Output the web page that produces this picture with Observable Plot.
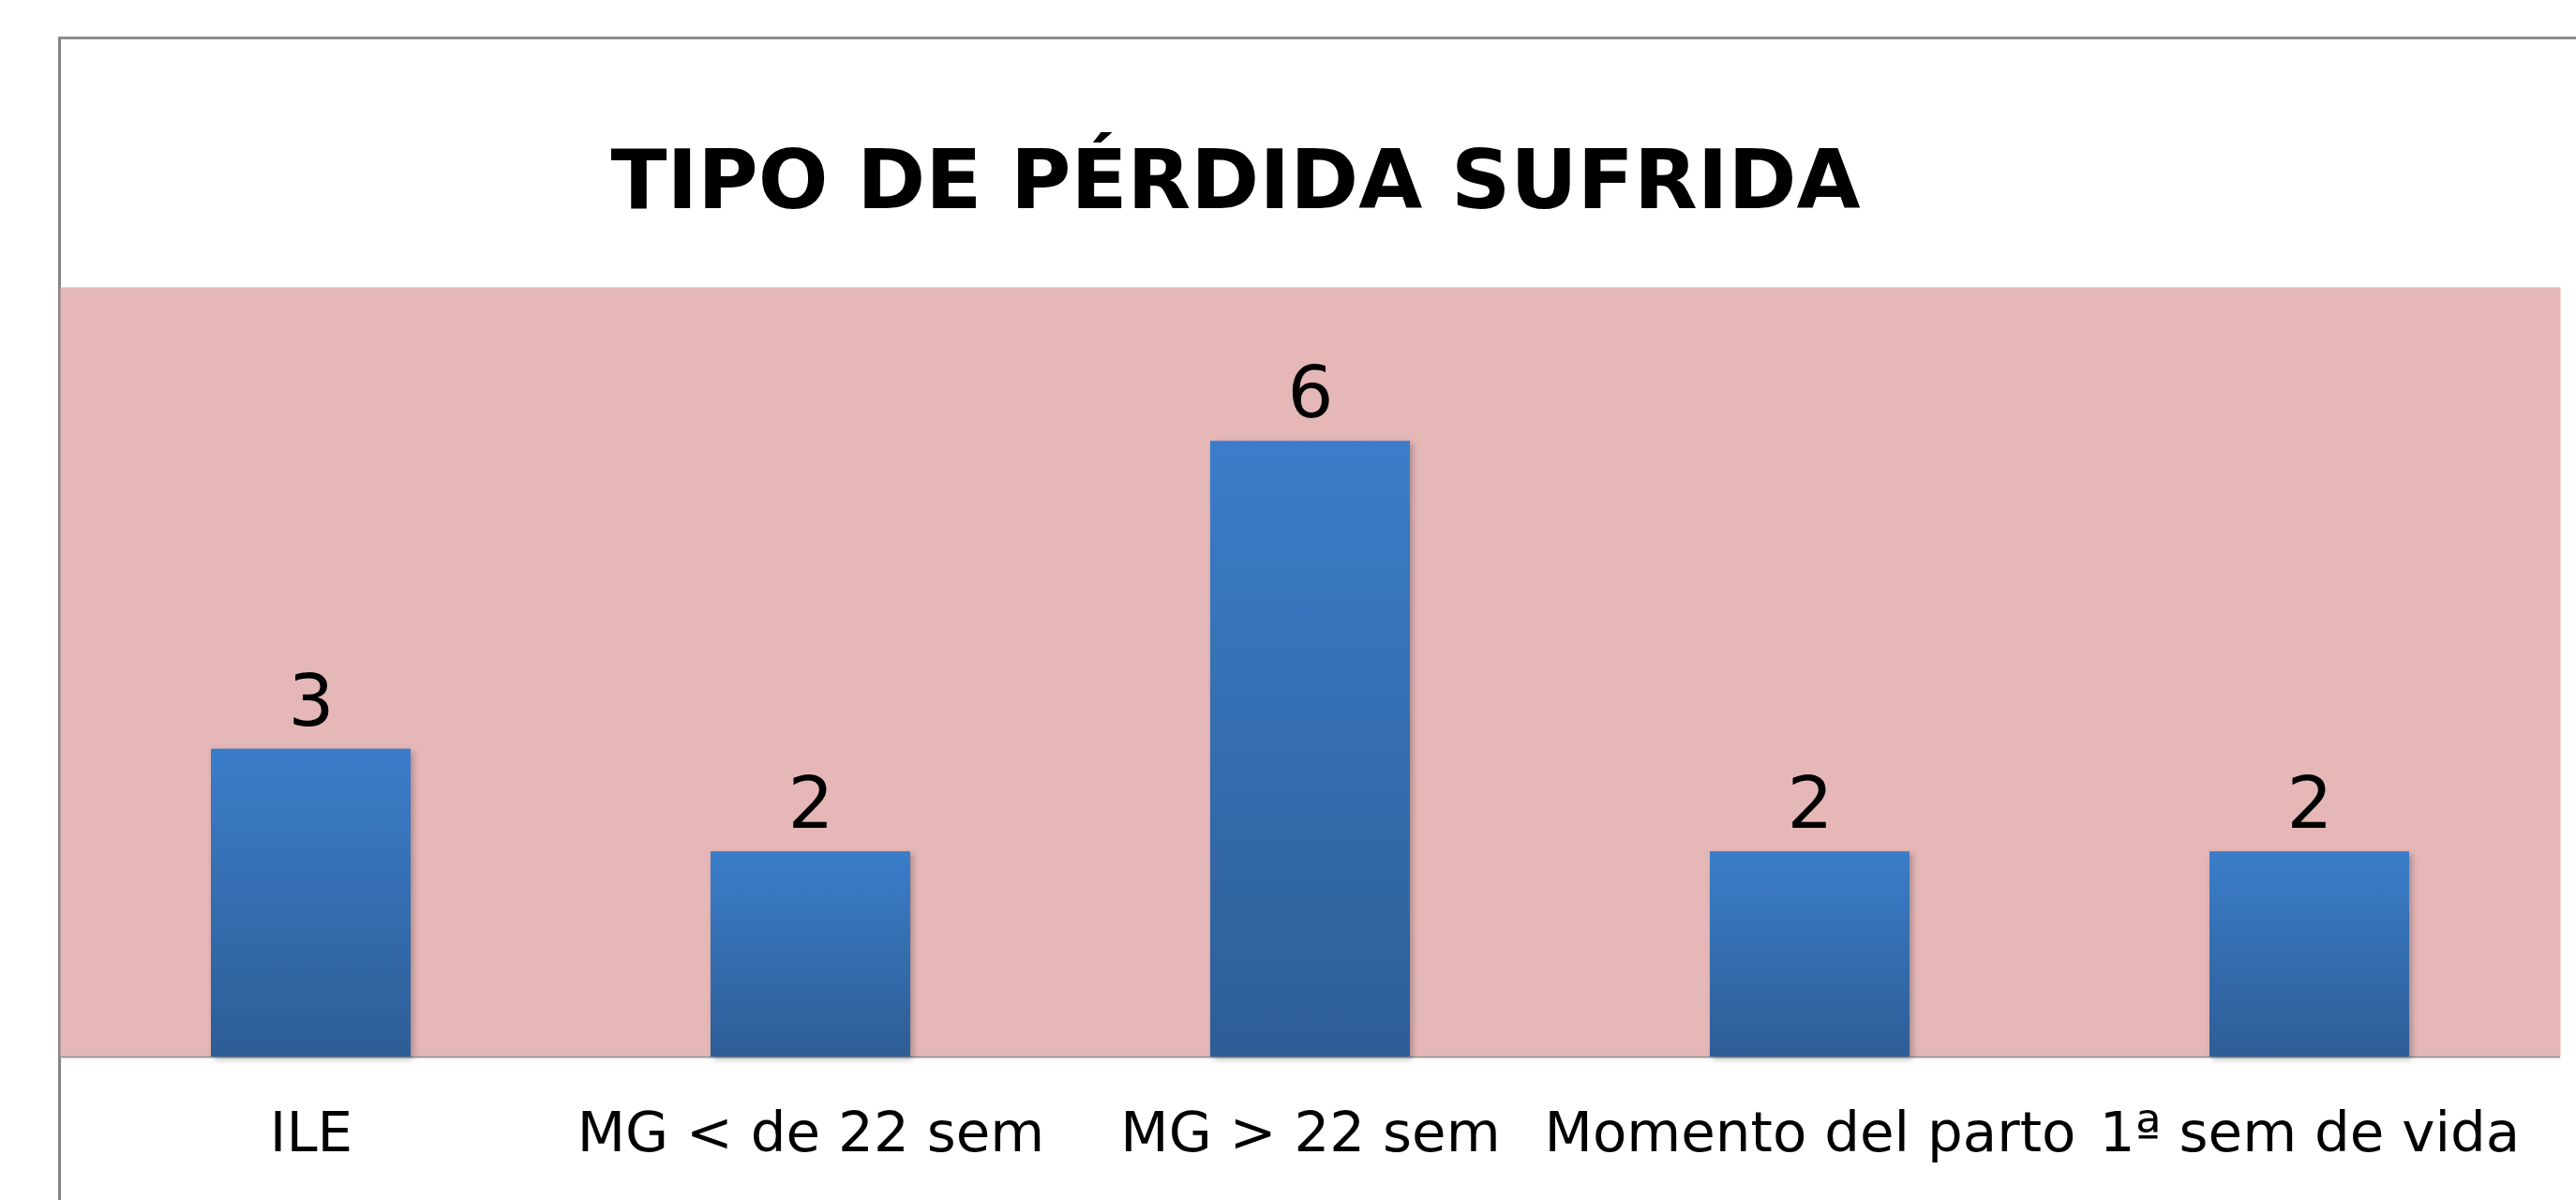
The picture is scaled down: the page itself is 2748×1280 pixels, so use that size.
<!DOCTYPE html>
<html>
<head>
<meta charset="utf-8">
<script src="https://cdn.jsdelivr.net/npm/d3@7"></script>
<script src="https://cdn.jsdelivr.net/npm/@observablehq/plot@0.6"></script>
<style>
  html, body { margin: 0; padding: 0; background: #fff; }
  #page { position: relative; width: 2748px; height: 1280px; overflow: hidden; background: #fff; }
  #border { position: absolute; left: 62px; top: 39px; width: 2700px; height: 1300px;
            border-left: 3px solid #858585; border-top: 3px solid #8f8f8f; box-sizing: border-box; }
  #title { position: absolute; left: 0; width: 2636px; top: 148px; text-align: center;
           font-family: "DejaVu Sans", Verdana, sans-serif; font-weight: bold; font-size: 88px;
           line-height: 88px; color: #000; }
  #chart { position: absolute; left: 0; top: 260px; }
  #chart g[aria-label="bar"] rect { filter: drop-shadow(3px 3px 3px rgba(0,0,0,0.25)); }
</style>
</head>
<body>
<div id="page">
  <div id="border"></div>
  <div id="title">TIPO DE PÉRDIDA SUFRIDA</div>
  <div id="chart"></div>
</div>
<script>
const categories = ["ILE", "MG < de 22 sem", "MG > 22 sem", "Momento del parto", "1ª sem de vida"];
const values = [3, 2, 6, 2, 2];

const data = categories.map((c, i) => ({category: c, value: values[i]}));

const svg = Plot.plot({
  width: 2748,
  height: 1020,
  marginTop: 46,
  marginBottom: 153,
  marginLeft: 64,
  marginRight: 17,
  style: {fontFamily: "DejaVu Sans, Verdana, sans-serif", color: "#000", background: "transparent", overflow: "visible"},
  x: {domain: categories, paddingInner: 0.6, paddingOuter: 0.3, label: null},
  y: {domain: [0, 7.5], axis: null},
  marks: [
    Plot.frame({fill: "#e5b7b7", stroke: "none"}),
    Plot.ruleY([0], {stroke: "#9a9a9a", strokeWidth: 2}),
    Plot.barY(data, {x: "category", y: "value", fill: "url(#barGrad)"}),
    Plot.text(data, {x: "category", y: "value", text: d => String(d.value), dy: -50, fontSize: 77, fill: "#000"}),
    Plot.axisX({tickSize: 0, tickPadding: 58, fontSize: 59.5, fill: "#000", label: null})
  ]
});

const ns = "http://www.w3.org/2000/svg";
const defs = document.createElementNS(ns, "defs");
const grad = document.createElementNS(ns, "linearGradient");
grad.setAttribute("id", "barGrad");
grad.setAttribute("x1", "0"); grad.setAttribute("y1", "0");
grad.setAttribute("x2", "0"); grad.setAttribute("y2", "1");
[["0%", "#3b7dc9"], ["100%", "#2d5d96"]].forEach(([o, c]) => {
  const s = document.createElementNS(ns, "stop");
  s.setAttribute("offset", o); s.setAttribute("stop-color", c);
  grad.appendChild(s);
});
defs.appendChild(grad);
svg.insertBefore(defs, svg.firstChild);

document.getElementById("chart").appendChild(svg);
</script>
</body>
</html>
